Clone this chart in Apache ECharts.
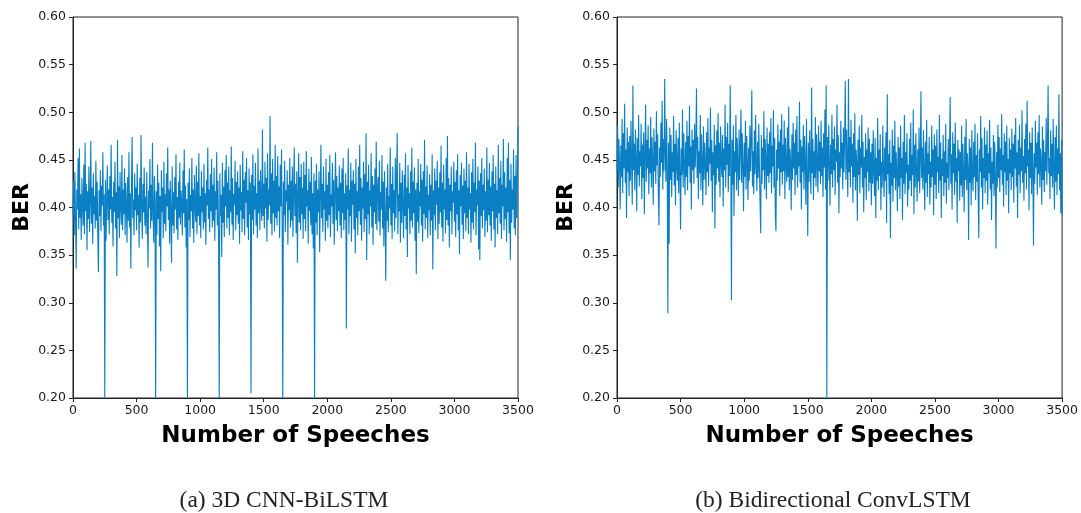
<!DOCTYPE html>
<html>
<head>
<meta charset="utf-8">
<script src="https://cdn.jsdelivr.net/npm/echarts@6/dist/echarts.min.js"></script>
<style>html,body{margin:0;padding:0;background:#fff;}#c{width:1081px;height:513px;}</style>
</head>
<body>
<div id="c"></div>
<script>
// Speech number of each sample = index * SPEECH_STEP
var SPEECH_STEP = 5;
var xTicks = [0, 500, 1000, 1500, 2000, 2500, 3000, 3500];
var yTicks = [0.20, 0.25, 0.30, 0.35, 0.40, 0.45, 0.50, 0.55, 0.60];
var captions = ['(a) 3D CNN-BiLSTM', '(b) Bidirectional ConvLSTM'];

// (a) 3D CNN-BiLSTM BER values
var berCnnBiLstm = [
0.392,0.428,0.371,0.437,0.385,0.336,0.419,0.398,0.452,0.377,0.462,0.389,0.414,0.366,0.431,0.401,0.381,0.445,0.372,0.468,
0.396,0.425,0.355,0.417,0.388,0.443,0.374,0.409,0.470,0.383,0.421,0.362,0.436,0.393,0.412,0.378,0.449,0.386,0.427,0.369,
0.332,0.418,0.391,0.439,0.375,0.423,0.402,0.458,0.381,0.414,0.195,0.429,0.365,0.407,0.444,0.387,0.419,0.372,0.433,0.398,
0.466,0.384,0.411,0.359,0.427,0.395,0.448,0.378,0.416,0.328,0.471,0.389,0.422,0.368,0.437,0.401,0.382,0.455,0.376,0.419,
0.393,0.441,0.371,0.426,0.404,0.363,0.432,0.386,0.458,0.379,0.415,0.336,0.424,0.474,0.389,0.408,0.371,0.436,0.397,0.421,
0.376,0.446,0.392,0.413,0.358,0.431,0.384,0.476,0.401,0.367,0.425,0.395,0.442,0.381,0.411,0.372,0.437,0.389,0.337,0.418,
0.399,0.451,0.378,0.424,0.386,0.468,0.392,0.363,0.433,0.404,0.195,0.417,0.371,0.445,0.388,0.426,0.359,0.412,0.333,0.439,
0.395,0.421,0.368,0.448,0.383,0.414,0.375,0.436,0.401,0.463,0.387,0.419,0.362,0.428,0.393,0.342,0.443,0.381,0.416,0.373,
0.432,0.398,0.456,0.377,0.411,0.366,0.427,0.389,0.447,0.382,0.418,0.404,0.371,0.439,0.394,0.461,0.379,0.423,0.358,0.409,
0.195,0.426,0.387,0.441,0.369,0.413,0.396,0.452,0.378,0.419,0.363,0.434,0.401,0.385,0.444,0.372,0.427,0.391,0.457,0.381,
0.412,0.368,0.438,0.395,0.421,0.377,0.446,0.384,0.415,0.361,0.429,0.402,0.463,0.388,0.419,0.374,0.435,0.396,0.451,0.379,
0.424,0.386,0.442,0.365,0.417,0.398,0.458,0.381,0.428,0.372,0.195,0.436,0.391,0.413,0.348,0.447,0.384,0.422,0.369,0.439,
0.401,0.455,0.378,0.426,0.389,0.443,0.371,0.418,0.395,0.464,0.382,0.431,0.366,0.414,0.403,0.449,0.376,0.427,0.392,0.438,
0.383,0.421,0.362,0.445,0.397,0.416,0.374,0.459,0.388,0.429,0.371,0.437,0.405,0.452,0.379,0.418,0.366,0.441,0.393,0.426,
0.205,0.434,0.387,0.456,0.372,0.423,0.398,0.447,0.381,0.415,0.368,0.462,0.394,0.428,0.376,0.439,0.405,0.386,0.482,0.391,
0.425,0.378,0.448,0.399,0.431,0.364,0.457,0.387,0.419,0.402,0.496,0.383,0.436,0.371,0.451,0.394,0.428,0.375,0.466,0.389,
0.433,0.381,0.454,0.396,0.422,0.368,0.445,0.401,0.461,0.385,0.195,0.427,0.392,0.449,0.374,0.418,0.406,0.439,0.361,0.424,
0.397,0.452,0.379,0.428,0.386,0.443,0.369,0.417,0.463,0.391,0.425,0.373,0.438,0.342,0.411,0.457,0.384,0.432,0.376,0.446,
0.393,0.421,0.367,0.448,0.388,0.434,0.375,0.459,0.401,0.418,0.362,0.441,0.396,0.427,0.381,0.453,0.372,0.415,0.357,0.436,
0.195,0.428,0.384,0.446,0.371,0.419,0.395,0.438,0.353,0.412,0.466,0.389,0.425,0.374,0.443,0.398,0.417,0.365,0.451,0.386,
0.424,0.378,0.437,0.392,0.455,0.369,0.414,0.401,0.447,0.383,0.429,0.361,0.418,0.458,0.387,0.433,0.375,0.421,0.396,0.444,
0.381,0.426,0.368,0.441,0.394,0.452,0.376,0.415,0.387,0.436,0.273,0.423,0.398,0.462,0.372,0.419,0.391,0.447,0.364,0.428,
0.403,0.439,0.377,0.425,0.352,0.451,0.389,0.417,0.371,0.443,0.396,0.466,0.382,0.431,0.365,0.421,0.399,0.448,0.374,0.435,
0.388,0.478,0.345,0.427,0.393,0.445,0.372,0.418,0.401,0.457,0.379,0.433,0.361,0.424,0.395,0.441,0.383,0.469,0.376,0.419,
0.432,0.385,0.449,0.371,0.416,0.398,0.455,0.378,0.427,0.359,0.438,0.392,0.323,0.421,0.386,0.446,0.374,0.412,0.399,0.463,
0.381,0.425,0.367,0.443,0.394,0.418,0.375,0.452,0.389,0.431,0.478,0.372,0.414,0.396,0.447,0.363,0.426,0.384,0.439,0.401,
0.368,0.434,0.391,0.457,0.377,0.421,0.348,0.445,0.399,0.415,0.372,0.438,0.386,0.463,0.379,0.427,0.394,0.442,0.365,0.419,
0.330,0.426,0.385,0.451,0.373,0.417,0.401,0.446,0.381,0.429,0.364,0.438,0.393,0.471,0.377,0.422,0.389,0.444,0.368,0.413,
0.397,0.435,0.371,0.424,0.386,0.456,0.335,0.418,0.392,0.441,0.376,0.428,0.403,0.449,0.367,0.421,0.383,0.437,0.395,0.465,
0.379,0.426,0.364,0.445,0.398,0.419,0.373,0.452,0.387,0.475,0.381,0.431,0.358,0.424,0.396,0.443,0.372,0.417,0.405,0.448,
0.385,0.427,0.369,0.439,0.393,0.456,0.376,0.418,0.351,0.434,0.401,0.447,0.382,0.423,0.367,0.441,0.394,0.428,0.375,0.458,
0.389,0.421,0.372,0.446,0.398,0.415,0.363,0.437,0.384,0.451,0.377,0.426,0.395,0.468,0.371,0.419,0.402,0.443,0.356,0.428,
0.345,0.436,0.391,0.452,0.378,0.424,0.397,0.441,0.369,0.417,0.386,0.463,0.374,0.429,0.392,0.447,0.381,0.422,0.365,0.438,
0.396,0.455,0.377,0.425,0.358,0.443,0.389,0.418,0.372,0.466,0.394,0.431,0.383,0.449,0.367,0.424,0.401,0.472,0.376,0.437,
0.388,0.421,0.364,0.452,0.395,0.468,0.373,0.429,0.345,0.446,0.384,0.419,0.398,0.461,0.378,0.433,0.371,0.455,0.389,0.426,
0.485
];

// (b) Bidirectional ConvLSTM BER values
var berBiConvLstm = [
0.438,0.486,0.421,0.472,0.447,0.398,0.465,0.432,0.493,0.415,0.478,0.441,0.509,0.426,0.461,0.389,0.484,0.437,0.469,0.412,
0.475,0.428,0.491,0.446,0.403,0.528,0.439,0.467,0.418,0.482,0.451,0.396,0.473,0.434,0.497,0.422,0.459,0.443,0.488,0.409,
0.466,0.431,0.479,0.393,0.455,0.508,0.427,0.471,0.441,0.486,0.414,0.462,0.436,0.495,0.421,0.474,0.449,0.403,0.483,0.438,
0.469,0.425,0.501,0.444,0.477,0.416,0.381,0.463,0.432,0.489,0.447,0.512,0.419,0.472,0.438,0.535,0.456,0.427,0.493,0.441,
0.289,0.468,0.362,0.484,0.429,0.476,0.411,0.458,0.437,0.496,0.423,0.467,0.402,0.481,0.445,0.428,0.473,0.415,0.489,0.436,
0.377,0.462,0.434,0.503,0.421,0.478,0.447,0.413,0.469,0.432,0.491,0.418,0.475,0.443,0.507,0.426,0.464,0.398,0.482,0.439,
0.471,0.425,0.488,0.442,0.466,0.525,0.431,0.474,0.409,0.459,0.436,0.497,0.418,0.477,0.448,0.402,0.485,0.429,0.468,0.445,
0.413,0.479,0.437,0.494,0.422,0.463,0.446,0.505,0.428,0.471,0.395,0.458,0.434,0.487,0.378,0.466,0.424,0.481,0.441,0.499,
0.427,0.468,0.411,0.485,0.448,0.432,0.476,0.401,0.462,0.439,0.508,0.421,0.474,0.445,0.489,0.416,0.467,0.433,0.528,0.452,
0.303,0.471,0.424,0.486,0.391,0.459,0.437,0.497,0.418,0.473,0.445,0.412,0.482,0.429,0.465,0.503,0.426,0.478,0.441,0.396,
0.468,0.432,0.491,0.419,0.475,0.447,0.408,0.463,0.428,0.486,0.438,0.471,0.523,0.422,0.459,0.414,0.481,0.435,0.497,0.446,
0.417,0.469,0.431,0.488,0.442,0.404,0.373,0.476,0.425,0.463,0.439,0.501,0.419,0.472,0.448,0.409,0.484,0.433,0.467,0.426,
0.479,0.436,0.494,0.415,0.465,0.443,0.502,0.421,0.473,0.393,0.375,0.461,0.428,0.487,0.441,0.469,0.412,0.482,0.437,0.498,
0.424,0.466,0.438,0.491,0.409,0.473,0.445,0.427,0.484,0.432,0.506,0.418,0.462,0.448,0.397,0.477,0.429,0.489,0.441,0.468,
0.413,0.482,0.434,0.496,0.421,0.458,0.443,0.511,0.426,0.471,0.398,0.464,0.437,0.487,0.419,0.475,0.446,0.403,0.493,0.432,
0.370,0.468,0.427,0.481,0.441,0.414,0.526,0.436,0.472,0.408,0.459,0.431,0.495,0.422,0.477,0.445,0.416,0.486,0.438,0.469,
0.425,0.491,0.433,0.463,0.411,0.478,0.442,0.503,0.419,0.528,0.195,0.474,0.428,0.487,0.447,0.402,0.466,0.435,0.497,0.421,
0.472,0.439,0.485,0.413,0.461,0.448,0.508,0.426,0.476,0.394,0.458,0.432,0.491,0.441,0.468,0.419,0.484,0.437,0.473,0.533,
0.429,0.482,0.446,0.411,0.535,0.437,0.474,0.421,0.492,0.443,0.467,0.405,0.478,0.432,0.499,0.418,0.461,0.448,0.386,0.471,
0.434,0.486,0.415,0.463,0.442,0.497,0.421,0.469,0.395,0.453,0.431,0.478,0.408,0.461,0.437,0.484,0.417,0.472,0.426,0.458,
0.402,0.467,0.425,0.481,0.436,0.412,0.473,0.389,0.452,0.428,0.494,0.418,0.461,0.433,0.477,0.397,0.448,0.421,0.486,0.439,
0.411,0.463,0.428,0.479,0.384,0.519,0.435,0.456,0.414,0.471,0.368,0.447,0.423,0.482,0.406,0.465,0.431,0.491,0.418,0.458,
0.437,0.396,0.474,0.422,0.463,0.409,0.486,0.431,0.452,0.387,0.469,0.425,0.497,0.414,0.458,0.436,0.478,0.401,0.445,0.419,
0.472,0.428,0.489,0.412,0.455,0.434,0.503,0.393,0.466,0.421,0.478,0.438,0.406,0.461,0.427,0.484,0.415,0.452,0.522,0.431,
0.463,0.419,0.481,0.438,0.397,0.469,0.426,0.492,0.411,0.457,0.435,0.474,0.403,0.448,0.421,0.486,0.432,0.461,0.392,0.477,
0.424,0.465,0.409,0.482,0.437,0.453,0.415,0.497,0.428,0.468,0.389,0.451,0.433,0.476,0.412,0.459,0.426,0.488,0.404,0.447,
0.431,0.472,0.418,0.463,0.516,0.425,0.456,0.398,0.479,0.436,0.467,0.413,0.489,0.427,0.452,0.384,0.471,0.438,0.461,0.407,
0.458,0.423,0.486,0.411,0.467,0.435,0.395,0.474,0.429,0.493,0.418,0.457,0.441,0.366,0.472,0.426,0.463,0.402,0.481,0.434,
0.417,0.469,0.432,0.488,0.408,0.455,0.427,0.478,0.413,0.368,0.461,0.437,0.496,0.421,0.473,0.398,0.452,0.431,0.484,0.415,
0.466,0.428,0.481,0.403,0.457,0.436,0.492,0.419,0.463,0.387,0.448,0.425,0.476,0.412,0.469,0.433,0.357,0.458,0.421,0.487,
0.431,0.474,0.416,0.462,0.439,0.498,0.424,0.455,0.401,0.478,0.437,0.469,0.413,0.486,0.428,0.451,0.394,0.473,0.436,0.461,
0.418,0.483,0.432,0.467,0.405,0.476,0.441,0.494,0.422,0.458,0.389,0.471,0.434,0.487,0.415,0.463,0.438,0.502,0.426,0.454,
0.407,0.472,0.436,0.488,0.419,0.512,0.443,0.461,0.397,0.479,0.431,0.468,0.414,0.484,0.438,0.360,0.457,0.425,0.491,0.442,
0.468,0.413,0.479,0.435,0.497,0.421,0.462,0.447,0.403,0.485,0.429,0.471,0.416,0.458,0.438,0.494,0.424,0.466,0.528,0.436,
0.452,0.409,0.481,0.433,0.467,0.421,0.493,0.441,0.398,0.474,0.427,0.486,0.413,0.462,0.435,0.519,0.418,0.457,0.394,0.471,
0.392
];

function pairs(vals) {
  return vals.map(function (v, i) { return [i * SPEECH_STEP, v]; });
}

var FONT = 'DejaVu Sans';
var TXT = '#1a1a1a';
var LINE = '#0a7fc3';

function xAxisCfg(gi) {
  return {
    type: 'value', gridIndex: gi,
    min: xTicks[0], max: xTicks[xTicks.length - 1], interval: 500,
    name: 'Number of Speeches', nameLocation: 'middle', nameGap: 27,
    nameTextStyle: { fontFamily: FONT, fontSize: 23, fontWeight: 'bold', color: '#000' },
    axisLine: { show: true, lineStyle: { color: '#222', width: 1 } },
    axisTick: { show: true, length: 4, lineStyle: { color: '#222' } },
    axisLabel: { fontFamily: FONT, fontSize: 12.5, color: TXT, margin: 6,
      formatter: function (v) { return String(v); } },
    splitLine: { show: false }
  };
}
function yAxisCfg(gi) {
  return {
    type: 'value', gridIndex: gi,
    min: yTicks[0], max: yTicks[yTicks.length - 1], interval: 0.05,
    name: 'BER', nameLocation: 'middle', nameGap: 40, nameRotate: 90,
    nameTextStyle: { fontFamily: FONT, fontSize: 22, fontWeight: 'bold', color: '#000' },
    axisLine: { show: true, lineStyle: { color: '#222', width: 1 } },
    axisTick: { show: true, length: 4, lineStyle: { color: '#222' } },
    axisLabel: { fontFamily: FONT, fontSize: 12.5, color: TXT, margin: 7,
      formatter: function (v) { return v.toFixed(2); } },
    splitLine: { show: false }
  };
}
function seriesCfg(gi, vals) {
  return {
    type: 'line', xAxisIndex: gi, yAxisIndex: gi,
    data: pairs(vals), showSymbol: false, symbol: 'none', clip: true,
    lineStyle: { color: LINE, width: 1.1 }, silent: true
  };
}

var chart = echarts.init(document.getElementById('c'), null, { renderer: 'canvas' });
chart.setOption({
  animation: false,
  backgroundColor: '#fff',
  grid: [
    { left: 73, top: 17, width: 445, height: 381, show: true, borderColor: '#222', borderWidth: 1 },
    { left: 617, top: 17, width: 446, height: 381, show: true, borderColor: '#222', borderWidth: 1 }
  ],
  xAxis: [xAxisCfg(0), xAxisCfg(1)],
  yAxis: [yAxisCfg(0), yAxisCfg(1)],
  series: [seriesCfg(0, berCnnBiLstm), seriesCfg(1, berBiConvLstm)],
  graphic: [
    { type: 'text', x: 284, y: 501, style: { text: captions[0], font: '23.5px "Liberation Serif"', fill: '#222', textAlign: 'center', textVerticalAlign: 'middle' } },
    { type: 'text', x: 833, y: 501, style: { text: captions[1], font: '23.5px "Liberation Serif"', fill: '#222', textAlign: 'center', textVerticalAlign: 'middle' } }
  ]
});
</script>
</body>
</html>
